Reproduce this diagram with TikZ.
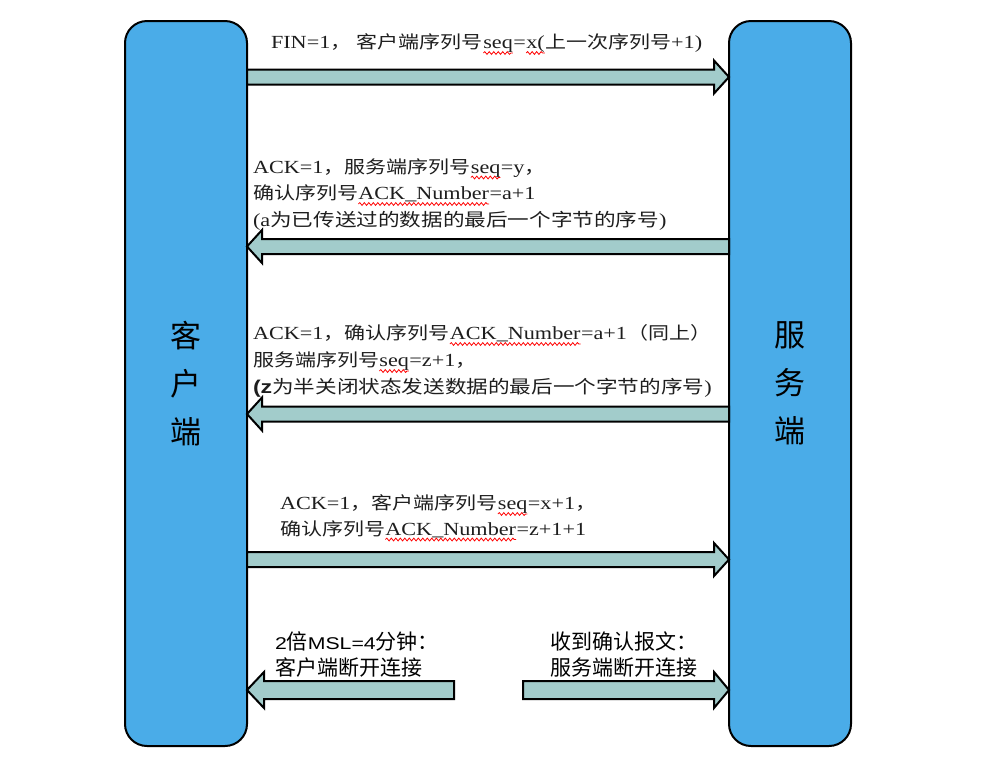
\documentclass[tikz,border=0pt]{standalone}
\usepackage{fontspec}
\setmainfont{Liberation Serif}[FakeStretch=1.2]
\setsansfont{Liberation Sans}[FakeStretch=1.25]
\newfontfamily\cjk{Noto Sans CJK SC}[FakeStretch=1.2]
\newfontfamily\cjkplain{Noto Sans CJK SC}
\usetikzlibrary{calc,decorations.pathmorphing}
\definecolor{boxblue}{RGB}{74,172,232}
\definecolor{arrowfill}{RGB}{162,204,203}
\definecolor{txt}{RGB}{30,30,30}
\newcommand\zh[1]{{\fontsize{17.5}{20}\cjk #1}}
\newcommand\zhb[1]{{\fontsize{18}{20}\cjk #1}}
\newcommand\zhs[1]{{\fontsize{21}{24}\cjkplain #1}}
\newcommand\wv[1]{\tikz[baseline=(wv.base)]{\node[inner sep=0pt,outer sep=0pt,anchor=base west] (wv) {#1};
  \draw[red,line width=0.8pt,decorate,decoration={snake,amplitude=1.4pt,segment length=4.5pt}] ([yshift=-4.5pt]wv.base west) -- ([yshift=-4.5pt]wv.base east);}}
\newcommand\arrR[5]{\draw[blockarrow] let \p1=(#1), \p2=(#2) in
  (\x1,\y1+#3) -- (\x2-#5,\y1+#3) -- (\x2-#5,\y1+#4) -- (\x2,\y1) -- (\x2-#5,\y1-#4) -- (\x2-#5,\y1-#3) -- (\x1,\y1-#3) -- cycle;}
\newcommand\arrL[5]{\draw[blockarrow] let \p1=(#1), \p2=(#2) in
  (\x1,\y1+#3) -- (\x2+#5,\y1+#3) -- (\x2+#5,\y1+#4) -- (\x2,\y1) -- (\x2+#5,\y1-#4) -- (\x2+#5,\y1-#3) -- (\x1,\y1-#3) -- cycle;}
\tikzset{
  box/.style={draw=black, line width=2pt, fill=boxblue, rounded corners=22pt, minimum width=122pt,
    minimum height=725pt, inner sep=0pt, outer sep=0pt, align=center,
    font=\fontsize{31}{48}\selectfont\cjkplain},
  blockarrow/.style={draw=black, line width=2pt, fill=arrowfill, line join=miter},
  lab/.style={anchor=base west, inner sep=0pt, outer sep=0pt, font=\fontsize{18.5}{20}\selectfont, text=txt},
  labs/.style={anchor=base west, inner sep=0pt, outer sep=0pt, font=\sffamily\fontsize{17}{20}\selectfont, text=black}
}
\begin{document}
\begin{tikzpicture}[x=1pt,y=-1pt]
\useasboundingbox (0,0) rectangle (990,764);
\node[box] (client) at (186,383.5) {客\\户\\端};
\node[box] (server) at (790,383.5) {服\\务\\端};

% arrow end points
\coordinate (a1t) at (client.east |- 0,77);
\coordinate (a1h) at (server.west |- 0,77);
\coordinate (a2t) at (server.west |- 0,246.5);
\coordinate (a2h) at (client.east |- 0,246.5);
\coordinate (a3t) at (server.west |- 0,414);
\coordinate (a3h) at (client.east |- 0,414);
\coordinate (a4t) at (client.east |- 0,559.5);
\coordinate (a4h) at (server.west |- 0,559.5);
\coordinate (a5t) at (454,690);
\coordinate (a5h) at (client.east |- 0,690);
\coordinate (a6t) at (523,690);
\coordinate (a6h) at (server.west |- 0,690);

\arrR{a1t}{a1h}{7.5pt}{16.5pt}{15pt}
\arrL{a2t}{a2h}{7.5pt}{16.5pt}{15pt}
\arrL{a3t}{a3h}{7.5pt}{16.5pt}{15pt}
\arrR{a4t}{a4h}{7.5pt}{16.5pt}{15pt}
\arrL{a5t}{a5h}{9pt}{18pt}{17pt}
\arrR{a6t}{a6h}{9pt}{18pt}{15pt}

% labels
\node[lab] (l1) at (271,48.5) {FIN=1\zh{，} \zh{客户端序列号}\wv{seq}=\wv{x(}\zh{上一次序列号}+1)};

\node[lab] (l2a) at (253,173) {ACK=1\zh{，服务端序列号}\wv{seq}=y\zh{，}};
\node[lab] (l2b) at (253,199.5) {\zh{确认序列号}\wv{ACK\_Number}=a+1};
\node[lab] (l2c) at (253,226.5) {(a\zhb{为已传送过的数据的最后一个字节的序号})};

\node[lab] (l3a) at (253,339.5) {ACK=1\zh{，确认序列号}\wv{ACK\_Number}=a+1\zh{（同上）}};
\node[lab] (l3b) at (253,366.5) {\zh{服务端序列号}\wv{seq}=z+1\zh{，}};
\node[lab] (l3c) at (253,393.5) {{\sffamily\bfseries (z}\zhb{为半关闭状态发送数据的最后一个字节的序号})};

\node[lab] (l4a) at (280,509.5) {ACK=1\zh{，客户端序列号}\wv{seq}=x+1\zh{，}};
\node[lab] (l4b) at (280,535) {\zh{确认序列号}\wv{ACK\_Number}=z+1+1};

\node[labs] (l5a) at (275,649.5) {2\zhs{倍}MSL=4\zhs{分钟：}};
\node[labs] (l5b) at (275,675.5) {\zhs{客户端断开连接}};
\node[labs] (l5c) at (550,649.5) {\zhs{收到确认报文：}};
\node[labs] (l5d) at (550,675.5) {\zhs{服务端断开连接}};
\end{tikzpicture}
\end{document}
